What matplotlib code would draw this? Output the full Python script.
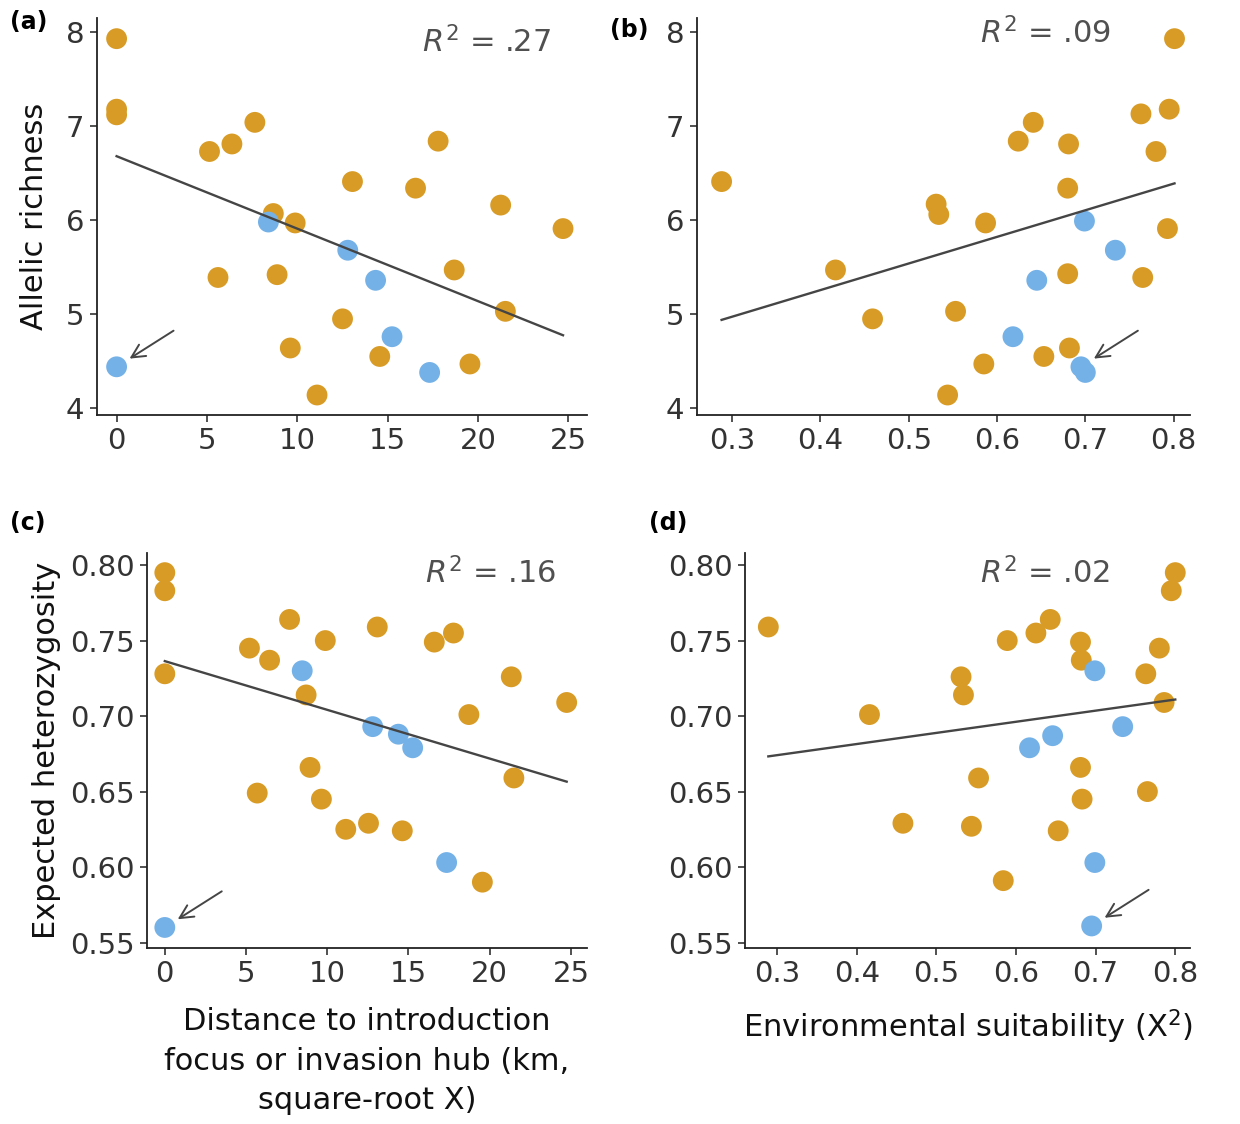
import numpy as np
import matplotlib
matplotlib.use("Agg")
import matplotlib.pyplot as plt

plt.rcParams['font.family'] = ['DejaVu Sans']
plt.rcParams['mathtext.fontset'] = 'dejavusans'

ORANGE = "#D89B25"
BLUE = "#74B1E7"
LINE = "#454545"
TEXT = "#333333"

# ---- panel (a): distance vs allelic richness
dist_ar_or = [0, 0, 0, 5.14, 6.38, 7.65, 17.79, 13.05, 16.54, 21.25, 24.70,
              8.67, 9.88, 5.61, 8.88, 18.68, 21.51, 12.50, 9.61, 14.56, 19.55, 11.09]
ar_or_a = [7.93, 7.18, 7.12, 6.73, 6.81, 7.04, 6.84, 6.41, 6.34, 6.16, 5.91,
           6.07, 5.97, 5.39, 5.42, 5.47, 5.03, 4.95, 4.64, 4.55, 4.47, 4.14]
dist_ar_bl = [0, 8.40, 12.79, 14.33, 15.24, 17.32]
ar_bl_a = [4.44, 5.98, 5.68, 5.36, 4.76, 4.38]

# ---- panel (b): suitability vs allelic richness
suit_ar_or = [0.801, 0.795, 0.763, 0.780, 0.641, 0.624, 0.681, 0.680, 0.288, 0.531, 0.534,
              0.587, 0.793, 0.417, 0.680, 0.765, 0.553, 0.459, 0.682, 0.653, 0.585, 0.544]
ar_or_b = [7.93, 7.18, 7.13, 6.73, 7.04, 6.84, 6.81, 6.34, 6.41, 6.17, 6.06,
           5.97, 5.91, 5.47, 5.43, 5.39, 5.03, 4.95, 4.64, 4.55, 4.47, 4.14]
suit_ar_bl = [0.699, 0.734, 0.645, 0.618, 0.695, 0.700]
ar_bl_b = [5.99, 5.68, 5.36, 4.76, 4.44, 4.38]

# ---- panel (c): distance vs expected heterozygosity
dist_he_or = [0, 0, 0, 7.68, 13.08, 17.77, 16.59, 9.88, 5.21, 6.45, 21.33,
              8.70, 18.72, 24.74, 21.49, 8.94, 5.69, 9.64, 11.14, 12.54, 14.62, 19.55]
he_or_c = [0.795, 0.783, 0.728, 0.764, 0.759, 0.755, 0.749, 0.750, 0.745, 0.737, 0.726,
           0.714, 0.701, 0.709, 0.659, 0.666, 0.649, 0.645, 0.625, 0.629, 0.624, 0.590]
dist_he_bl = [0, 8.46, 12.80, 14.38, 15.26, 17.35]
he_bl_c = [0.560, 0.730, 0.693, 0.688, 0.679, 0.603]

# ---- panel (d): suitability vs expected heterozygosity
suit_he_or = [0.289, 0.800, 0.795, 0.643, 0.625, 0.589, 0.681, 0.682, 0.780, 0.763, 0.531,
              0.534, 0.786, 0.416, 0.553, 0.681, 0.683, 0.765, 0.458, 0.544, 0.653, 0.584]
he_or_d = [0.759, 0.795, 0.783, 0.764, 0.755, 0.750, 0.749, 0.737, 0.745, 0.728, 0.726,
           0.714, 0.709, 0.701, 0.659, 0.666, 0.645, 0.650, 0.629, 0.627, 0.624, 0.591]
suit_he_bl = [0.699, 0.734, 0.646, 0.617, 0.699, 0.695]
he_bl_d = [0.730, 0.693, 0.687, 0.679, 0.603, 0.561]

# fitted lines as drawn in the figure (intercept, slope)
fit_intercept = [6.68, 4.124, 0.7364, 0.652]
fit_slope = [-0.0771, 2.83, -0.003227, 0.0737]
# index of the blue outlier the arrow points at
outlier_idx = [0, 4, 0, 5]

r2_labels = [".27", ".09", ".16", ".02"]
panel_tags = ["(a)", "(b)", "(c)", "(d)"]

fig = plt.figure(figsize=(12.4, 11.24), dpi=100)
ax_a = fig.add_axes([0.078, 0.631, 0.395, 0.353])
ax_b = fig.add_axes([0.562, 0.631, 0.398, 0.353])
ax_c = fig.add_axes([0.1185, 0.157, 0.355, 0.351])
ax_d = fig.add_axes([0.601, 0.157, 0.359, 0.351])

panels = [
    (ax_a, dist_ar_or, ar_or_a, dist_ar_bl, ar_bl_a),
    (ax_b, suit_ar_or, ar_or_b, suit_ar_bl, ar_bl_b),
    (ax_c, dist_he_or, he_or_c, dist_he_bl, he_bl_c),
    (ax_d, suit_he_or, he_or_d, suit_he_bl, he_bl_d),
]
r2_pos = [(0.796, 0.94), (0.706, 0.962), (0.78, 0.949), (0.674, 0.95)]

for i, (ax, xo, yo, xb, yb) in enumerate(panels):
    ax.scatter(xo, yo, s=225, color=ORANGE, edgecolor='none', zorder=2)
    ax.scatter(xb, yb, s=225, color=BLUE, edgecolor='none', zorder=2)
    xall = np.array(xo + xb)
    xs = np.array([xall.min(), xall.max()])
    ax.plot(xs, fit_intercept[i] + fit_slope[i] * xs, color=LINE, lw=1.7, zorder=3)
    j = outlier_idx[i]
    ax.annotate("", xy=(xb[j], yb[j]), xytext=(41, 26), textcoords='offset points',
                arrowprops=dict(arrowstyle='->', color=LINE, lw=1.4, shrinkA=0, shrinkB=11,
                                mutation_scale=24))
    ax.text(*r2_pos[i], r"$R^2$ = " + r2_labels[i], transform=ax.transAxes,
            ha='center', va='center', fontsize=22, color="#505050")
    for side in ['top', 'right']:
        ax.spines[side].set_visible(False)
    for side in ['left', 'bottom']:
        ax.spines[side].set_linewidth(1.3)
        ax.spines[side].set_color("#222222")
    ax.tick_params(labelsize=21, colors=TEXT, length=5, width=1.2, pad=4)

for ax in (ax_a, ax_c):
    ax.set_xlim(-1.1, 26)
    ax.set_xticks([0, 5, 10, 15, 20, 25])
for ax in (ax_b, ax_d):
    ax.set_xlim(0.26, 0.819)
    ax.set_xticks([0.3, 0.4, 0.5, 0.6, 0.7, 0.8])
    ax.set_xticklabels(["0.3", "0.4", "0.5", "0.6", "0.7", "0.8"])
for ax in (ax_a, ax_b):
    ax.set_ylim(3.93, 8.15)
    ax.set_yticks([4, 5, 6, 7, 8])
for ax in (ax_c, ax_d):
    ax.set_ylim(0.5467, 0.808)
    ax.set_yticks([0.55, 0.60, 0.65, 0.70, 0.75, 0.80])
    ax.set_yticklabels(["0.55", "0.60", "0.65", "0.70", "0.75", "0.80"])

ax_a.set_ylabel("Allelic richness", fontsize=22, color="#111111", labelpad=12)
ax_c.set_ylabel("Expected heterozygosity", fontsize=22, color="#111111", labelpad=6)
ax_c.set_xlabel("Distance to introduction\nfocus or invasion hub (km,\nsquare-root X)",
                fontsize=22, color="#111111", labelpad=14, linespacing=1.45)
ax_d.set_xlabel("Environmental suitability (X$^2$)", fontsize=22, color="#111111", labelpad=14)

tag_pos = [(0.008, 0.980), (0.492, 0.973), (0.008, 0.535), (0.523, 0.535)]
for tag, (x, y) in zip(panel_tags, tag_pos):
    fig.text(x, y, tag, fontsize=17, fontweight='bold', ha='left', va='center')

fig.savefig("out.png", dpi=100)
